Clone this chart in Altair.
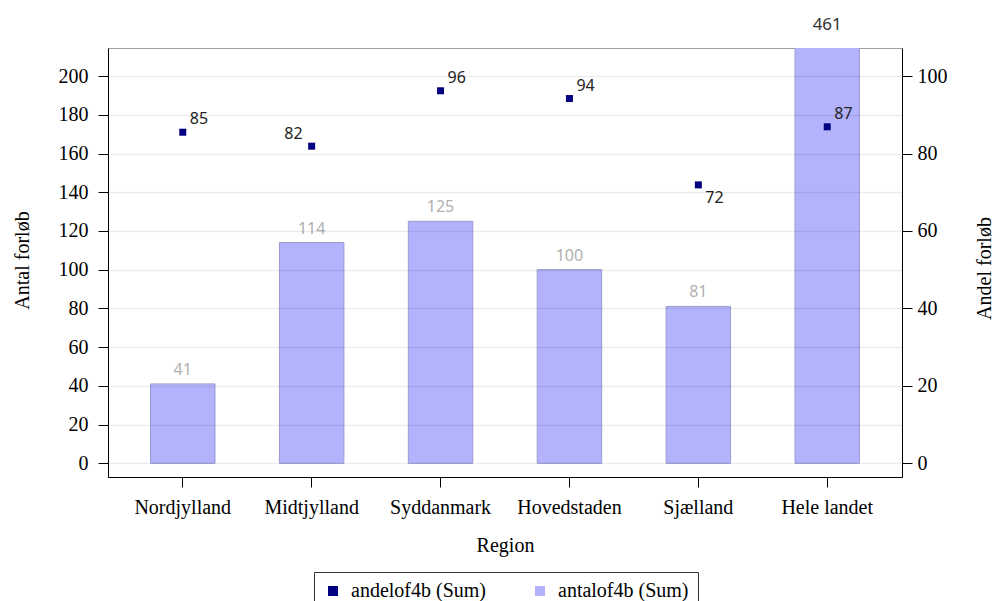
import altair as alt
import pandas as pd

regions = ["Nordjylland", "Midtjylland", "Syddanmark", "Hovedstaden", "Sjælland", "Hele landet"]
antal = [41, 114, 125, 100, 81, 461]
andel = [85.5, 81.9, 96.2, 94.2, 71.9, 86.9]
andel_labels = ["85", "82", "96", "94", "72", "87"]
left_ticks = [0, 20, 40, 60, 80, 100, 120, 140, 160, 180, 200]
right_ticks = [0, 20, 40, 60, 80, 100]
series_names = ["andelof4b (Sum)", "antalof4b (Sum)"]

LEFT_DOMAIN = [-7.08, 214.5]
RIGHT_DOMAIN = [-3.54, 107.25]

df = pd.DataFrame({
    "Region": regions,
    "antal": antal,
    "andel": andel,
    "andel_label": andel_labels,
})

SERIF = "Liberation Serif"
SANS = "Noto Sans"

color_scale = alt.Scale(domain=series_names, range=["#000080", "#b3b3fd"])
legend = alt.Legend(
    title=None, orient="none", legendX=206, legendY=524, direction="horizontal",
    symbolType="square", symbolSize=100, symbolStrokeWidth=0, symbolOpacity=1,
    labelFont=SERIF, labelFontSize=20, labelColor="#000",
    strokeColor="#333", fillColor="#fff", padding=9,
    columnPadding=44, labelOffset=8, labelLimit=300,
)

x = alt.X(
    "Region:N", sort=regions,
    scale=alt.Scale(paddingInner=0.5, paddingOuter=0.33),
    axis=alt.Axis(
        title="Region", labelAngle=0, labelFont=SERIF, labelFontSize=20, labelColor="#000",
        labelPadding=10, tickSize=10, tickColor="#000", domainColor="#000",
        titleFont=SERIF, titleFontSize=20, titleFontWeight="normal", titleColor="#000",
        titlePadding=18,
    ),
)

left_axis = alt.Axis(
    title="Antal forløb", values=left_ticks, grid=True, gridColor="#000", gridOpacity=0.075,
    gridWidth=1.5, zindex=1,
    domainColor="#000", tickColor="#000", tickSize=10, labelFont=SERIF, labelFontSize=20,
    labelColor="#000", labelPadding=10, titleFont=SERIF, titleFontSize=20,
    titleFontWeight="normal", titleColor="#000", titleX=-86, titleY=212, titleAngle=270,
    titleAlign="center", titleBaseline="middle",
)
right_axis = alt.Axis(
    title="Andel forløb", values=right_ticks, grid=False, orient="right",
    domainColor="#000", tickColor="#000", tickSize=10, labelFont=SERIF, labelFontSize=20,
    labelColor="#000", labelPadding=5, titleFont=SERIF, titleFontSize=20,
    titleFontWeight="normal", titleColor="#000", titleX=82, titleY=220, titleAngle=270,
    titleAlign="center", titleBaseline="middle",
)

base = alt.Chart(df)

bars = base.transform_calculate(series="'antalof4b (Sum)'").mark_bar(
    clip=True, stroke="#9a9ad2", strokeWidth=1
).encode(
    x=x,
    y=alt.Y("antal:Q", scale=alt.Scale(domain=LEFT_DOMAIN, nice=False, zero=False), axis=left_axis),
    color=alt.Color("series:N", scale=color_scale, legend=legend),
)

bar_labels = base.transform_filter(
    alt.FieldOneOfPredicate(field="Region", oneOf=regions[:5])
).mark_text(font=SANS, fontSize=16, color="#b0b0b0", dy=-14, baseline="middle").encode(
    x=x, y=alt.Y("antal:Q"), text="antal:Q"
)

top_label = base.transform_filter(
    alt.FieldOneOfPredicate(field="Region", oneOf=regions[5:])
).transform_calculate(
    ylab="min(datum.antal, %f)" % LEFT_DOMAIN[1]
).mark_text(font=SANS, fontSize=17, color="#333", dy=-23, baseline="middle").encode(
    x=x, y=alt.Y("ylab:Q"), text="antal:Q"
)

left = alt.layer(bars, bar_labels, top_label)

points = base.transform_calculate(series="'andelof4b (Sum)'").mark_square(
    size=49, opacity=1
).encode(
    x=x,
    y=alt.Y("andel:Q", scale=alt.Scale(domain=RIGHT_DOMAIN, nice=False, zero=False), axis=right_axis),
    color=alt.Color("series:N", scale=color_scale, legend=legend),
)

def plabel(names, align, dx, dy):
    return base.transform_filter(
        alt.FieldOneOfPredicate(field="Region", oneOf=names)
    ).mark_text(font=SANS, fontSize=16, color="#222", align=align, dx=dx, dy=dy,
                baseline="middle").encode(x=x, y=alt.Y("andel:Q"), text="andel_label:N")

pl1 = plabel(["Nordjylland", "Syddanmark", "Hovedstaden", "Hele landet"], "left", 7, -13)
pl2 = plabel(["Midtjylland"], "right", -9, -12)
pl3 = plabel(["Sjælland"], "left", 7, 13)

right = alt.layer(points, pl1, pl2, pl3)

chart = alt.layer(left, right).resolve_scale(y="independent").properties(
    width=794, height=429,
    autosize=alt.AutoSizeParams(type="none"),
    padding={"left": 100, "top": 40, "right": 92, "bottom": 124},
).configure_view(stroke="#a0a0a0", strokeWidth=1)

chart.save("out.html", embed_options={"renderer": "svg", "actions": False})
